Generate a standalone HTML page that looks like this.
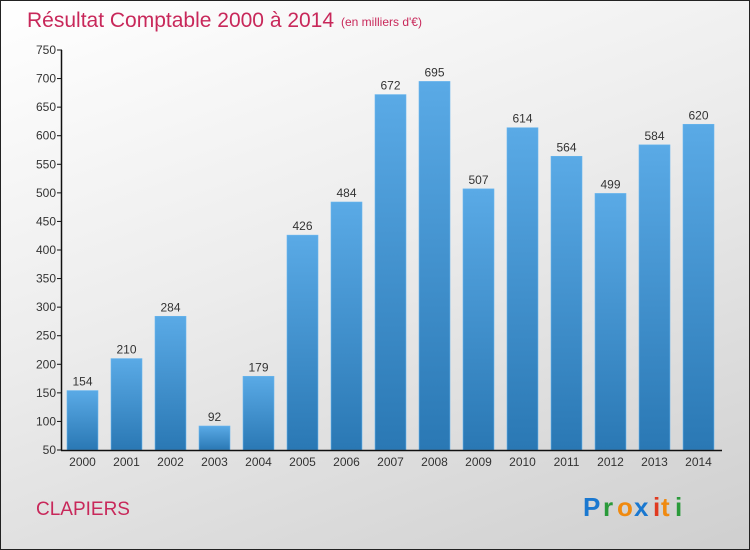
<!DOCTYPE html>
<html><head><meta charset="utf-8"><style>
html,body{margin:0;padding:0}
body{width:750px;height:550px;overflow:hidden;font-family:"Liberation Sans",sans-serif}
#frame{position:absolute;left:0;top:0;width:748px;height:548px;border:1px solid #222;background:linear-gradient(160deg,#ffffff 0%,#ececec 45%,#cfcfcf 100%)}
</style></head><body>
<div id="frame">
<svg width="750" height="550" style="position:absolute;left:-1px;top:-1px">
<defs>
<linearGradient id="bg" x1="0" y1="0" x2="0" y2="1">
<stop offset="0" stop-color="#5aaae6"/><stop offset="1" stop-color="#2a78b4"/>
</linearGradient>
</defs>
<text x="27" y="27" font-size="21" fill="#c8285a">Résultat Comptable 2000 à 2014</text>
<text x="341" y="26" font-size="12" fill="#c8285a">(en milliers d'€)</text>
<g id="plot"></g>
<text x="36" y="515" font-size="19" fill="#c8285a">CLAPIERS</text>
<g font-size="26" font-weight="bold">
<text x="583" y="516" fill="#1a78d0">P</text>
<text x="603" y="516" fill="#2a9a3a">r</text>
<text x="617" y="516" fill="#f08a10">o</text>
<text x="634" y="516" fill="#1a78d0">x</text>
<text x="653" y="516" fill="#e03a20">i</text>
<text x="661" y="516" fill="#f08a10">t</text>
<text x="675" y="516" fill="#2a9a3a">i</text>
</g>
</svg>
</div>
<script>
const years=["2000","2001","2002","2003","2004","2005","2006","2007","2008","2009","2010","2011","2012","2013","2014"];
const values=[154,210,284,92,179,426,484,672,695,507,614,564,499,584,620];
const yTicks=[50,100,150,200,250,300,350,400,450,500,550,600,650,700,750];
const NS="http://www.w3.org/2000/svg";
const g=document.getElementById('plot');
const y0=450,yTop=50,vMin=50,vMax=750;
function yScale(v){return y0-(v-vMin)*(y0-yTop)/(vMax-vMin);}
function xScale(i){return 82.5+i*44;}
function mk(t,a){const e=document.createElementNS(NS,t);for(const k in a)e.setAttribute(k,a[k]);g.appendChild(e);return e;}
yTicks.forEach(v=>{
 const y=yScale(v);
 const t=mk('line',{x1:57,x2:62,y1:y,y2:y,stroke:'#111'});
 
 
 const l=mk('text',{x:56,y:y+4,'font-size':12,fill:'#333','text-anchor':'end'});
 l.textContent=v;
 
 
});
values.forEach((v,i)=>{
 const cx=xScale(i),y=yScale(v);
 const r=mk('rect',{x:cx-15.5,y:y,width:31,height:y0-y,fill:'url(#bg)',stroke:'#6ab6ee','stroke-width':0.6});
 
 
 const vl=mk('text',{x:cx,y:y-5,'font-size':12,fill:'#333','text-anchor':'middle'});
 vl.textContent=v;
 
 
 const xl=mk('text',{x:cx,y:466,'font-size':12,fill:'#333','text-anchor':'middle'});
 xl.textContent=years[i];
 
 
});
const ya=mk('line',{x1:61.5,x2:61.5,y1:yTop,y2:y0,stroke:'#111','stroke-width':1.5});


const xa=mk('line',{x1:61,x2:722,y1:y0+0.5,y2:y0+0.5,stroke:'#111','stroke-width':1.5});


</script>
</body></html>
